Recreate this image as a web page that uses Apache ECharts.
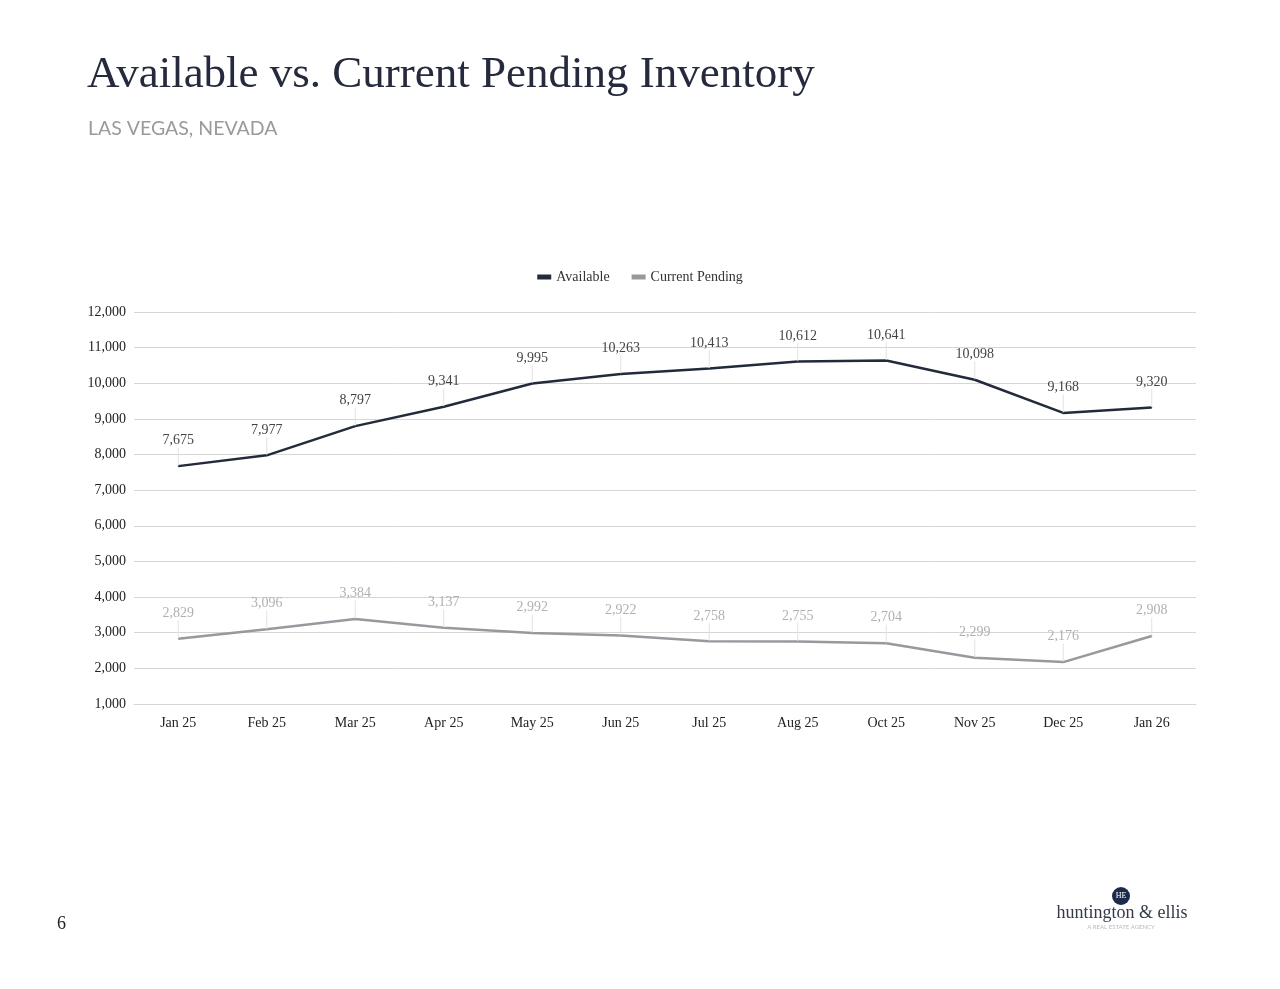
<!DOCTYPE html>
<html>
<head>
<meta charset="utf-8">
<script src="https://cdn.jsdelivr.net/npm/echarts@6/dist/echarts.min.js"></script>
<style>
html,body{margin:0;padding:0;background:#fff;}
#c{width:1280px;height:989px;}
</style>
</head>
<body>
<div id="c"></div>
<script>
const categories = ['Jan 25','Feb 25','Mar 25','Apr 25','May 25','Jun 25','Jul 25','Aug 25','Oct 25','Nov 25','Dec 25','Jan 26'];
const available = [7675, 7977, 8797, 9341, 9995, 10263, 10413, 10612, 10641, 10098, 9168, 9320];
const pending = [2829, 3096, 3384, 3137, 2992, 2922, 2758, 2755, 2704, 2299, 2176, 2908];
const yTicks = {min: 1000, max: 12000, interval: 1000};

const serif = '"Liberation Serif", "DejaVu Serif", serif';
const fmt = v => Number(v).toLocaleString('en-US');
const chart = echarts.init(document.getElementById('c'));
chart.setOption({
  backgroundColor: '#fff',
  animation: false,
  textStyle: {fontFamily: serif},
  title: [
    {text: 'Available vs. Current Pending Inventory', left: 82, top: 48,
     textStyle: {fontFamily: serif, fontSize: 45, fontWeight: 'normal', color: '#252b3d'}}
  ],
  legend: {
    top: 265, left: 'center', itemWidth: 14, itemHeight: 5, itemGap: 22,
    icon: 'rect',
    textStyle: {fontFamily: serif, fontSize: 14, color: '#333'},
    data: ['Available', 'Current Pending']
  },
  grid: {left: 134, right: 84, top: 312, bottom: 285},
  xAxis: {
    type: 'category', data: categories, boundaryGap: true,
    axisLine: {show: true, lineStyle: {color: '#d6d6d6'}},
    axisTick: {show: false},
    axisLabel: {fontFamily: serif, fontSize: 14, color: '#222', margin: 12}
  },
  yAxis: {
    type: 'value', min: yTicks.min, max: yTicks.max, interval: yTicks.interval,
    axisLine: {show: false}, axisTick: {show: false},
    splitLine: {lineStyle: {color: '#d6d6d6', width: 1}},
    axisLabel: {fontFamily: serif, fontSize: 14, color: '#222', margin: 8, formatter: fmt}
  },
  series: [
    {name: 'Available', type: 'line', data: available, showSymbol: true, symbol: 'circle', symbolSize: 1,
     lineStyle: {color: '#232a3c', width: 2.5}, itemStyle: {color: '#232a3c'},
     label: {show: true, position: 'top', distance: 4, formatter: p => fmt(p.value),
             fontFamily: serif, fontSize: 14, color: '#444'},
     labelLayout: {dy: -14},
     labelLine: {show: true, lineStyle: {color: '#e2e2e2', width: 1}}
    },
    {name: 'Current Pending', type: 'line', data: pending, showSymbol: true, symbol: 'circle', symbolSize: 1,
     lineStyle: {color: '#98989e', width: 2.5}, itemStyle: {color: '#98989e'},
     label: {show: true, position: 'top', distance: 4, formatter: p => fmt(p.value),
             fontFamily: serif, fontSize: 14, color: '#b0b0b0'},
     labelLayout: {dy: -14},
     labelLine: {show: true, lineStyle: {color: '#e2e2e2', width: 1}}
    }
  ],
  graphic: [
    {type: 'text', x: 88, y: 129, style: {text: 'LAS VEGAS, NEVADA', font: '19.5px "Lato", sans-serif', fill: '#9a9a9a', verticalAlign: 'middle'}},
    {type: 'text', left: 57, top: 915, style: {text: '6', font: '18px ' + serif, fill: '#222'}},
    {type: 'circle', shape: {cx: 1121, cy: 896, r: 9}, style: {fill: '#1c2b4c'}},
    {type: 'text', x: 1121, y: 896, style: {text: 'HE', font: '8px ' + serif, fill: '#fff', align: 'center', verticalAlign: 'middle'}},
    {type: 'text', x: 1122, y: 913, style: {text: 'huntington & ellis', font: '18px ' + serif, fill: '#333a4a', align: 'center', verticalAlign: 'middle'}},
    {type: 'text', x: 1121, y: 927, style: {text: 'A REAL ESTATE AGENCY', font: '6px "Lato", sans-serif', fill: '#bbbbbb', align: 'center', verticalAlign: 'middle', letterSpacing: 3}}
  ]
});
</script>
</body>
</html>
